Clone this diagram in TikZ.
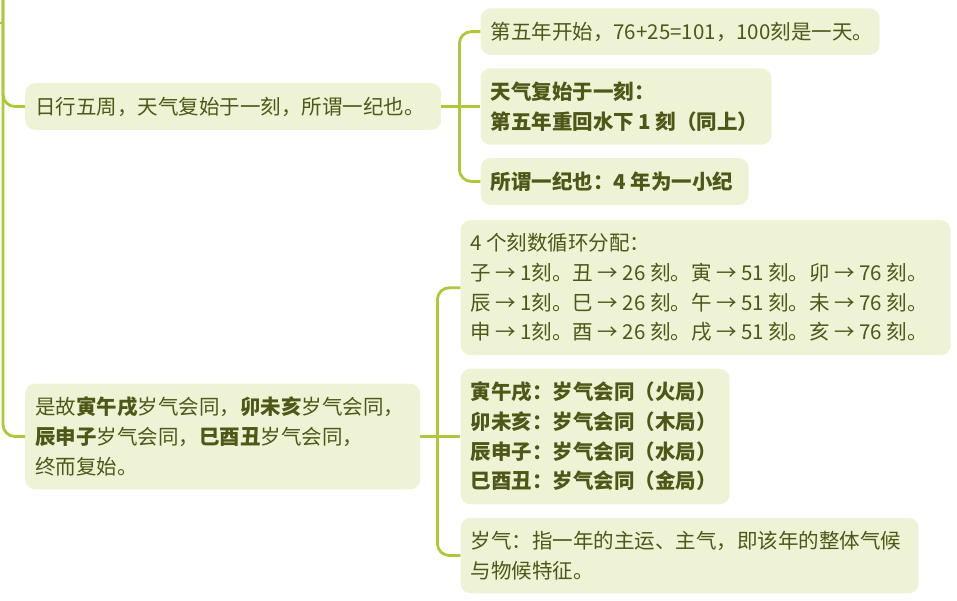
\documentclass[tikz,border=0pt]{standalone}
\usepackage{fontspec}
\setmainfont{Noto Sans CJK SC}
\usetikzlibrary{positioning}
\definecolor{leaf}{HTML}{EEF3D6}
\definecolor{branch}{HTML}{ADC93A}
\definecolor{ink}{HTML}{4E5716}

\begin{document}
\begin{tikzpicture}[x=1pt, y=-1pt,
    topic/.style={fill=leaf, text=ink, rounded corners=10pt, inner xsep=10pt, inner ysep=13.5pt, align=left, anchor=west, font=\fontsize{20.5pt}{29.6pt}\selectfont, execute at begin node={\spaceskip=4.5pt plus 1pt\relax}},
    link/.style={draw=branch, line width=2.8pt, rounded corners=12pt}
]
    \useasboundingbox (0,0) rectangle (957,601);

    % Main topics
    \node[topic, text width=396pt] (zhou) at (25,106.5) {日行五周，天气复始于一刻，所谓一纪也。};
    \node[topic, text width=375pt] (huitong) at (25,436.5) {是故\textbf{寅午戌}岁气会同，\textbf{卯未亥}岁气会同，\\ \textbf{辰申子}岁气会同，\textbf{巳酉丑}岁气会同，\\ 终而复始。};

    % Sub topics of zhou
    \node[topic, text width=271pt, right=39pt of zhou] (fushi) {\textbf{天气复始于一刻：}\\ \textbf{第五年重回水下 1 刻（同上）}};
    \node[topic, text width=379pt, above=13pt of fushi.north west, anchor=south west] (kaishi) {第五年开始，76+25=101，100刻是一天。};
    \node[topic, text width=248pt, below=13pt of fushi.south west, anchor=north west] (yiji) {\textbf{所谓一纪也：4 年为一小纪}};

    % Sub topics of huitong
    \node[topic, text width=249pt, right=40pt of huitong] (juju) {\textbf{寅午戌：岁气会同（火局）}\\ \textbf{卯未亥：岁气会同（木局）}\\ \textbf{辰申子：岁气会同（水局）}\\ \textbf{巳酉丑：岁气会同（金局）}};
    \node[topic, text width=470pt, above=13pt of juju.north west, anchor=south west] (kefen) {4 个刻数循环分配：\\ 子 → 1刻。丑 → 26 刻。寅 → 51 刻。卯 → 76 刻。\\ 辰 → 1刻。巳 → 26 刻。午 → 51 刻。未 → 76 刻。\\ 申 → 1刻。酉 → 26 刻。戌 → 51 刻。亥 → 76 刻。};
    \node[topic, text width=438pt, below=13pt of juju.south west, anchor=north west] (suiqi) {岁气：指一年的主运、主气，即该年的整体气候\\ 与物候特征。};

    % Trunk
    \coordinate (root) at (0,23);
    \coordinate (trunk) at (3,0);
    \draw[link] (root) -- (3,23);
    \draw[link] (trunk) |- (huitong.west);
    \draw[link] (trunk) |- (zhou.west);

    % Forks
    \coordinate[right=18pt of zhou.east] (zhoufork);
    \coordinate[right=17pt of huitong.east] (huifork);

    \draw[link] (zhou.east) -- (zhoufork);
    \draw[link] (zhoufork) |- (kaishi.west);
    \draw[link] (zhoufork) -- (fushi.west);
    \draw[link] (zhoufork) |- (yiji.west);

    \draw[link] (huitong.east) -- (huifork);
    \draw[link] (huifork) |- (kefen.west);
    \draw[link] (huifork) -- (juju.west);
    \draw[link] (huifork) |- (suiqi.west);
\end{tikzpicture}
\end{document}
